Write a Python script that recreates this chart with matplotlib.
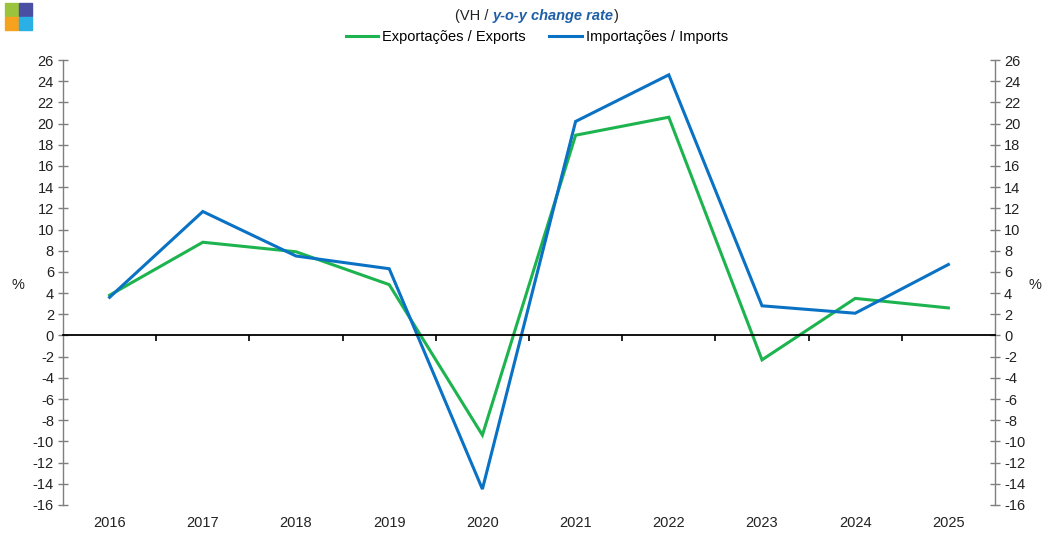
import matplotlib
matplotlib.use("Agg")
import matplotlib.pyplot as plt
from matplotlib.patches import Rectangle
from matplotlib.transforms import blended_transform_factory
import numpy as np

plt.rcParams['font.family'] = ['Liberation Sans', 'DejaVu Sans']
plt.rcParams['axes.unicode_minus'] = False

# DATA
years = ["2016", "2017", "2018", "2019", "2020", "2021", "2022", "2023", "2024", "2025"]
exports = [3.8, 8.8, 7.9, 4.8, -9.4, 18.9, 20.6, -2.3, 3.5, 2.6]
imports = [3.6, 11.7, 7.5, 6.3, -14.5, 20.2, 24.6, 2.8, 2.1, 6.7]
y_ticks = list(range(-16, 27, 2))

GREEN = "#1DB44F"
BLUE = "#0A72C4"

fig = plt.figure(figsize=(10.47, 5.35), dpi=100)
ax = fig.add_axes([63/1047, 30/535, (995-63)/1047, (505-60)/535])

x = np.arange(len(years))
ax.plot(x, exports, color=GREEN, lw=2.2, label="Exportações / Exports", solid_joinstyle="miter")
ax.plot(x, imports, color=BLUE, lw=2.2, label="Importações / Imports", solid_joinstyle="miter")

ax.set_xlim(-0.5, len(years) - 0.5)
ax.set_ylim(-16, 26)

# y axes (left and right, same scale)
ax.set_yticks(y_ticks)
ax.tick_params(axis='y', direction='inout', length=7, width=1, color='#7f7f7f',
               labelsize=10.5, labelcolor='#222222', left=True, right=True,
               labelleft=True, labelright=True, pad=3)
for s in ['left', 'right']:
    ax.spines[s].set_color('#7f7f7f')
    ax.spines[s].set_linewidth(1)
ax.spines['top'].set_visible(False)

# category axis crossing at zero
ax.spines['bottom'].set_position(('data', 0))
ax.spines['bottom'].set_color('black')
ax.spines['bottom'].set_linewidth(1.3)
ax.set_xticks(np.arange(len(years) - 1) + 0.5)
ax.set_xticklabels([])
ax.tick_params(axis='x', direction='out', length=4, width=1.2, color='black')

trans = blended_transform_factory(ax.transData, ax.transAxes)
for xi, lab in zip(x, years):
    ax.text(xi, -0.04, lab, transform=trans, ha='center', va='center',
            fontsize=10.5, color='#222222')

fig.text(18/1047, 1 - 285/535, "%", ha='center', va='center', fontsize=10.5, color='#222222')
fig.text(1035/1047, 1 - 285/535, "%", ha='center', va='center', fontsize=10.5, color='#222222')

# legend
fig.legend(loc='center', bbox_to_anchor=(537/1047, 1 - 37/535), ncol=2, frameon=False,
           fontsize=10.5, handlelength=2.2, handletextpad=0.3, columnspacing=1.6)

# title with mixed styles
renderer = fig.canvas.get_renderer()
parts = [("(VH / ", dict(color='#222222')),
         ("y-o-y change rate", dict(color='#1F5FA8', fontweight='bold', fontstyle='italic')),
         (")", dict(color='#222222'))]
texts = []
widths = []
for s, kw in parts:
    t = fig.text(0, 1 - 16/535, s, fontsize=10.5, va='center', ha='left', **kw)
    texts.append(t)
    widths.append(t.get_window_extent(renderer).width)
total = sum(widths)
xpos = 537 - total / 2
for t, w in zip(texts, widths):
    t.set_x(xpos / 1047)
    xpos += w

# logo squares
logo_colors = [("#9BC33C", 5, 3), ("#4A4FA3", 19, 3), ("#F5A21E", 5, 17), ("#2BB0E6", 19, 17)]
for c, lx, ly in logo_colors:
    fig.patches.append(Rectangle((lx/1047, 1 - (ly + 13)/535), 13/1047, 13/535,
                                 transform=fig.transFigure, color=c, figure=fig))

fig.savefig("out.png", dpi=100)
